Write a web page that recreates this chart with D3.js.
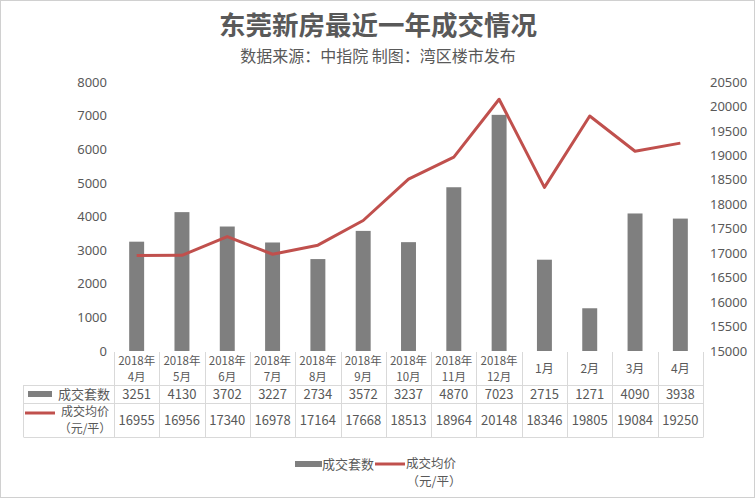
<!DOCTYPE html>
<html><head><meta charset="utf-8">
<script src="https://cdn.jsdelivr.net/npm/d3@7"></script>
<style>body{margin:0;background:#fff;}svg{display:block;font-family:"Noto Sans CJK SC","Noto Sans",sans-serif;}</style>
</head><body><svg id="c" width="756" height="500"></svg>
<script>
const catYear = ["2018年","2018年","2018年","2018年","2018年","2018年","2018年","2018年","2018年","","","",""];
const catMonth = ["4月","5月","6月","7月","8月","9月","10月","11月","12月","1月","2月","3月","4月"];
const volume = [3251,4130,3702,3227,2734,3572,3237,4870,7023,2715,1271,4090,3938];
const price = [16955,16956,17340,16978,17164,17668,18513,18964,20148,18346,19805,19084,19250];
const leftTicks = [0,1000,2000,3000,4000,5000,6000,7000,8000];
const rightTicks = [15000,15500,16000,16500,17000,17500,18000,18500,19000,19500,20000,20500];
const seriesNames = ["成交套数","成交均价"];
const unitLabel = "（元/平）";
const title = "东莞新房最近一年成交情况";
const subtitle = "数据来源：中指院 制图：湾区楼市发布";

const svg = d3.select("#c");
const txt = "#595959", border = "#d9d9d9", barC = "#7f7f7f", lineC = "#c0504d";
svg.append("rect").attr("x",0.5).attr("y",0.5).attr("width",754).attr("height",497).attr("fill","none").attr("stroke","#d0d0d0");

svg.append("text").attr("x",378).attr("y",35).attr("text-anchor","middle").attr("font-size",26.5).attr("font-weight","bold").attr("fill",txt).text(title);
svg.append("text").attr("x",378).attr("y",62).attr("text-anchor","middle").attr("font-size",16).attr("fill",txt).text(subtitle);

const x0 = 114, x1 = 703;
const x = d3.scaleBand().domain(d3.range(catMonth.length)).range([x0,x1]).paddingInner(0.67).paddingOuter(0.335);
const xc = d3.scaleBand().domain(d3.range(catMonth.length)).range([x0,x1]);
const yL = d3.scaleLinear().domain([0,8000]).range([351,82]);
const yR = d3.scaleLinear().domain([15000,20500]).range([351,82]);

const numFont = "'Noto Sans','DejaVu Sans',sans-serif";
const gl = svg.append("g").attr("transform",`translate(${x0},0)`)
  .call(d3.axisLeft(yL).tickValues(leftTicks).tickFormat(d3.format("d")).tickSize(0).tickPadding(7));
gl.select(".domain").remove();
gl.selectAll("text").attr("font-size",13).attr("fill",txt).attr("font-family",numFont);
const gr = svg.append("g").attr("transform",`translate(${x1},0)`)
  .call(d3.axisRight(yR).tickValues(rightTicks).tickFormat(d3.format("d")).tickSize(0).tickPadding(7));
gr.select(".domain").remove();
gr.selectAll("text").attr("font-size",13).attr("fill",txt).attr("font-family",numFont);

svg.append("g").selectAll("rect").data(volume).join("rect")
  .attr("x",(d,i)=>x(i)).attr("width",x.bandwidth())
  .attr("y",d=>yL(d)).attr("height",d=>yL(0)-yL(d)).attr("fill",barC);

const line = d3.line().x((d,i)=>xc(i)+xc.bandwidth()/2).y(d=>yR(d));
svg.append("path").datum(price).attr("d",line).attr("fill","none").attr("stroke",lineC).attr("stroke-width",3).attr("stroke-linejoin","round");

const tb = svg.append("g").attr("stroke",border).attr("stroke-width",1).attr("fill","none");
const rowTop = 352, r1 = 385, r2 = 403, r3 = 437, lx = 23.5;
for (let i=0;i<=catMonth.length;i++){
  const xx = Math.round(x0 + i*xc.bandwidth())+0.5;
  tb.append("line").attr("x1",xx).attr("x2",xx).attr("y1",rowTop).attr("y2",r3);
}
tb.append("line").attr("x1",lx).attr("x2",lx).attr("y1",r1).attr("y2",r3);
[r1,r2,r3].forEach(yy=>tb.append("line").attr("x1",lx).attr("x2",x1+0.5).attr("y1",yy+0.5).attr("y2",yy+0.5));

const ft = "'Noto Sans CJK SC','Noto Sans',sans-serif";
const cg = svg.append("g").attr("font-size",13).attr("fill",txt).attr("text-anchor","middle").attr("font-family",ft);
catMonth.forEach((m,i)=>{
  const cx = xc(i)+xc.bandwidth()/2;
  if (catYear[i]) {
    cg.append("text").attr("x",cx).attr("y",365).attr("font-size",11.5).text(catYear[i]);
    cg.append("text").attr("x",cx).attr("y",381).attr("font-size",11.5).text(m);
  } else {
    cg.append("text").attr("x",cx).attr("y",373).attr("font-size",12).text(m);
  }
  cg.append("text").attr("x",cx).attr("y",398.5).text(volume[i]);
  cg.append("text").attr("x",cx).attr("y",425).text(price[i]);
});
svg.append("rect").attr("x",28).attr("y",391).attr("width",24).attr("height",6).attr("fill",barC);
cg.append("text").attr("x",84).attr("y",398.5).text(seriesNames[0]);
svg.append("line").attr("x1",25).attr("x2",55).attr("y1",413).attr("y2",413).attr("stroke",lineC).attr("stroke-width",3);
cg.append("text").attr("x",85).attr("y",416).attr("font-size",12).text(seriesNames[1]);
cg.append("text").attr("x",85).attr("y",433).attr("font-size",12).text(unitLabel);

svg.append("rect").attr("x",295).attr("y",461).attr("width",27).attr("height",6).attr("fill",barC);
cg.append("text").attr("x",348).attr("y",468.5).text(seriesNames[0]);
svg.append("line").attr("x1",375).attr("x2",405).attr("y1",464).attr("y2",464).attr("stroke",lineC).attr("stroke-width",3);
cg.append("text").attr("x",431).attr("y",468).attr("font-size",12.5).text(seriesNames[1]);
cg.append("text").attr("x",434).attr("y",486).attr("font-size",12.5).text(unitLabel);
</script></body></html>
